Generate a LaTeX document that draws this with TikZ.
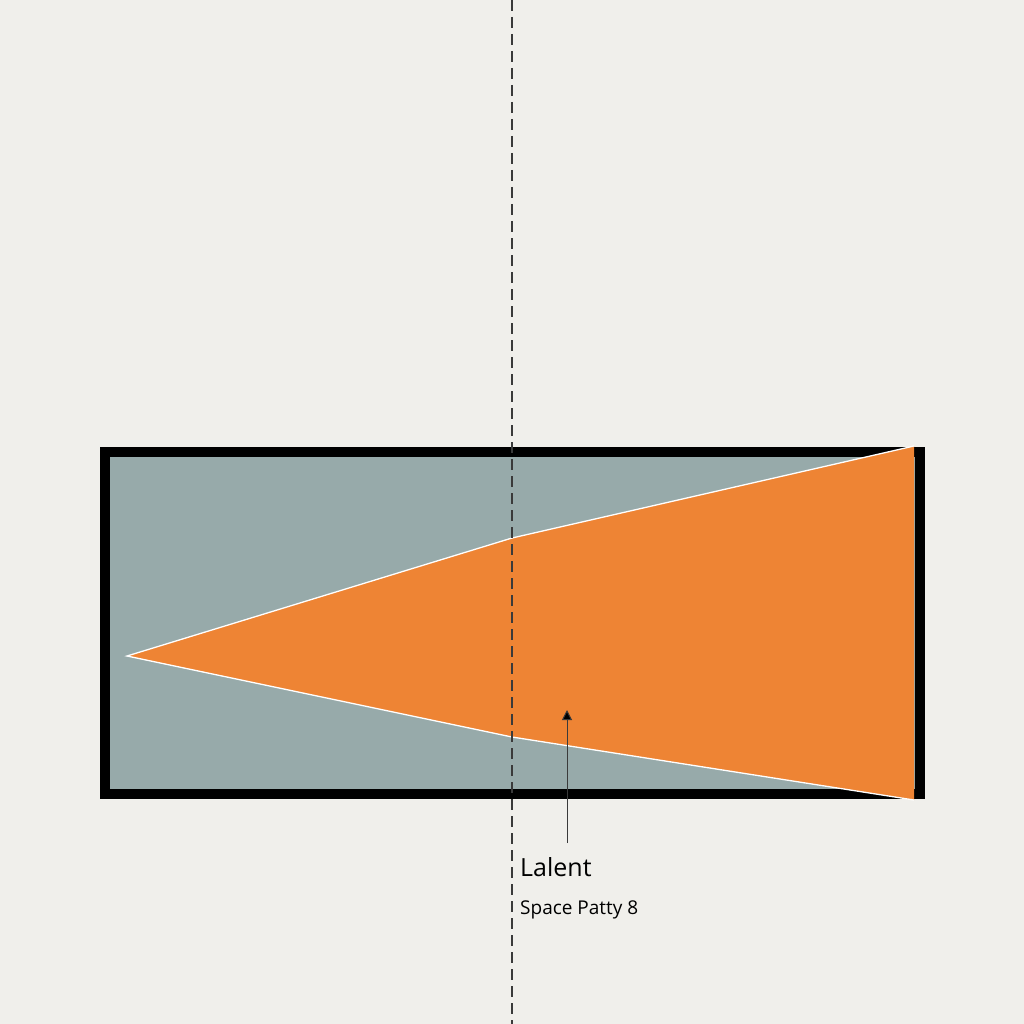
\documentclass[tikz,border=0pt]{standalone}
\usepackage{fontspec}
\setmainfont{Open Sans}
\usetikzlibrary{arrows.meta}
\definecolor{bgc}{HTML}{F0EFEB}
\definecolor{slate}{HTML}{97AAAA}
\definecolor{orng}{HTML}{EE8434}
\definecolor{ink}{HTML}{3A3A3A}
\tikzset{
  frame/.style={draw=black,line width=10pt},
  axisline/.style={draw=ink,line width=1.1pt,dash pattern=on 11pt off 6pt},
  pointer/.style={draw=ink,line width=1pt,-{Triangle[length=10pt,width=10pt,fill=black]}},
  lbig/.style={anchor=base west,inner sep=0pt,font=\fontsize{25}{30}\selectfont,text=black},
  lsmall/.style={anchor=base west,inner sep=0pt,font=\fontsize{19}{23}\selectfont,text=black}
}
\begin{document}
\begin{tikzpicture}[x=1pt,y=-1pt]
\fill[bgc] (0,0) rectangle (1024,1024);
\useasboundingbox (0,0) rectangle (1024,1024);
% box
\fill[slate] (105,452) rectangle (920,794);
\draw[frame] (105,452) rectangle (920,794);
% orange wedge
\coordinate (tip) at (127,656);
\coordinate (kt) at (512,538);
\coordinate (tr) at (914,446);
\coordinate (br) at (914,800);
\coordinate (kb) at (512,737);
\fill[orng] (tip) -- (kt) -- (tr) -- (br) -- (kb) -- cycle;
\draw[white,line width=1.3pt] (tr) -- (kt) -- (tip) -- (kb) -- (br);
% right band
\fill[black] (915,447) rectangle (925,799);
% dashed axis
\coordinate (atop) at (512,0);
\coordinate (abot) at (512,1024);
\draw[axisline] (atop) -- (abot);
% pointer
\coordinate (pfrom) at (567,843);
\coordinate (pto) at (567,710);
\draw[pointer] (pfrom) -- (pto);
\node[lbig] (lalent) at (520,876) {Lalent};
\node[lsmall] (space) at (520,914) {Space Patty 8};
\end{tikzpicture}
\end{document}
